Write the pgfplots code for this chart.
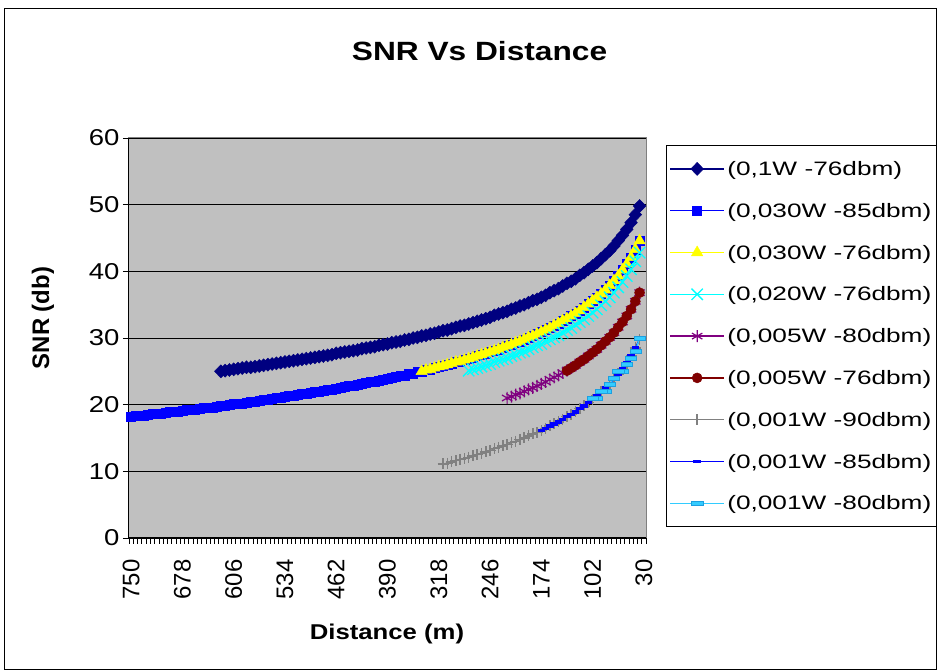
\documentclass[border=0pt]{standalone}
\usepackage{fontspec}
\setmainfont{Liberation Sans}
\newfontfamily\widefont{Liberation Sans}[FakeStretch=1.2]
\newfontfamily\legfont{Liberation Sans}[FakeStretch=1.35]
\usepackage{pgfplots}
\usepackage{pgfplotstable}
\pgfplotsset{compat=1.18}
\definecolor{bgc}{HTML}{C0C0C0}
\definecolor{navyc}{HTML}{000080}
\definecolor{bluec}{HTML}{0000FF}
\definecolor{yellowc}{HTML}{FFFF00}
\definecolor{cyanc}{HTML}{00FFFF}
\definecolor{purplec}{HTML}{800080}
\definecolor{darkredc}{HTML}{800000}
\definecolor{grayc}{HTML}{808080}
\definecolor{lbluec}{HTML}{33CCFF}
\definecolor{lbluedark}{HTML}{1E9FE0}
% d = distance (m); A = 0.1W; B = 0.030W; D = 0.020W; E = 0.005W; G = 0.001W; I = 0.001W (-80dbm)
\pgfplotstableread{
d A B D E G I
36 49.8 44.6 42.8 36.8 29.8 30
42 48.5 43.3 41.5 35.5 28.5 28
48 47.3 42.1 40.3 34.3 27.3 27
54 46.3 41.1 39.3 33.3 26.3 26
60 45.4 40.2 38.4 32.4 25.4 25
66 44.6 39.3 37.6 31.6 24.6 25
72 43.8 38.6 36.8 30.8 23.8 24
78 43.1 37.9 36.1 30.1 23.1 23
84 42.5 37.2 35.5 29.5 22.5 22
90 41.9 36.6 34.9 28.9 21.9 22
96 41.3 36.1 34.3 28.3 21.3 21
102 40.8 35.6 33.8 27.8 20.8 21
108 40.3 35.1 33.3 27.3 20.3 nan
114 39.8 34.6 32.8 26.8 19.8 nan
120 39.4 34.1 32.4 26.4 19.4 nan
126 38.9 33.7 32.0 25.9 18.9 nan
132 38.5 33.3 31.5 25.5 18.5 nan
138 38.2 32.9 31.2 25.1 18.2 nan
144 37.8 32.6 30.8 24.8 17.8 nan
150 37.4 32.2 30.4 24.4 17.4 nan
156 37.1 31.9 30.1 24.1 17.1 nan
162 36.8 31.5 29.8 23.8 16.8 nan
168 36.4 31.2 29.5 23.4 16.4 nan
174 36.1 30.9 29.1 23.1 16.1 nan
180 35.8 30.6 28.9 22.8 15.8 nan
186 35.6 30.3 28.6 22.5 15.6 nan
192 35.3 30.1 28.3 22.3 15.3 nan
198 35.0 29.8 28.0 22.0 15.0 nan
204 34.8 29.5 27.8 21.7 14.8 nan
210 34.5 29.3 27.5 21.5 14.5 nan
216 34.3 29.0 27.3 21.2 14.3 nan
222 34.0 28.8 27.0 21.0 14.0 nan
228 33.8 28.6 26.8 nan 13.8 nan
234 33.6 28.3 26.6 nan 13.6 nan
240 33.4 28.1 26.4 nan 13.4 nan
246 33.1 27.9 26.1 nan 13.1 nan
252 32.9 27.7 25.9 nan 12.9 nan
258 32.7 27.5 25.7 nan 12.7 nan
264 32.5 27.3 25.5 nan 12.5 nan
270 32.3 27.1 25.3 nan 12.3 nan
276 32.1 26.9 25.1 nan 12.1 nan
282 31.9 26.7 nan nan 11.9 nan
288 31.8 26.5 nan nan 11.8 nan
294 31.6 26.4 nan nan 11.6 nan
300 31.4 26.2 nan nan 11.4 nan
306 31.2 26.0 nan nan 11.2 nan
312 31.1 25.8 nan nan 11.1 nan
318 30.9 25.7 nan nan nan nan
324 30.7 25.5 nan nan nan nan
330 30.6 25.3 nan nan nan nan
336 30.4 25.2 nan nan nan nan
342 30.3 25.0 nan nan nan nan
348 30.1 24.9 nan nan nan nan
354 30.0 24.7 nan nan nan nan
360 29.8 24.6 nan nan nan nan
366 29.7 24.4 nan nan nan nan
372 29.5 24.3 nan nan nan nan
378 29.4 24.2 nan nan nan nan
384 29.3 24.0 nan nan nan nan
390 29.1 23.9 nan nan nan nan
396 29.0 23.8 nan nan nan nan
402 28.9 23.6 nan nan nan nan
408 28.7 23.5 nan nan nan nan
414 28.6 23.4 nan nan nan nan
420 28.5 23.3 nan nan nan nan
426 28.4 23.1 nan nan nan nan
432 28.2 23.0 nan nan nan nan
438 28.1 22.9 nan nan nan nan
444 28.0 22.8 nan nan nan nan
450 27.9 22.7 nan nan nan nan
456 27.8 22.5 nan nan nan nan
462 27.7 22.4 nan nan nan nan
468 27.5 22.3 nan nan nan nan
474 27.4 22.2 nan nan nan nan
480 27.3 22.1 nan nan nan nan
486 27.2 22.0 nan nan nan nan
492 27.1 21.9 nan nan nan nan
498 27.0 21.8 nan nan nan nan
504 26.9 21.7 nan nan nan nan
510 26.8 21.6 nan nan nan nan
516 26.7 21.5 nan nan nan nan
522 26.6 21.4 nan nan nan nan
528 26.5 21.3 nan nan nan nan
534 26.4 21.2 nan nan nan nan
540 26.3 21.1 nan nan nan nan
546 26.2 21.0 nan nan nan nan
552 26.1 20.9 nan nan nan nan
558 26.0 20.8 nan nan nan nan
564 25.9 20.7 nan nan nan nan
570 25.8 20.6 nan nan nan nan
576 25.7 20.5 nan nan nan nan
582 25.6 20.4 nan nan nan nan
588 25.6 20.3 nan nan nan nan
594 25.5 20.2 nan nan nan nan
600 25.4 20.2 nan nan nan nan
606 25.3 20.1 nan nan nan nan
612 25.2 20.0 nan nan nan nan
618 25.1 19.9 nan nan nan nan
624 25.0 19.8 nan nan nan nan
630 nan 19.7 nan nan nan nan
636 nan 19.6 nan nan nan nan
642 nan 19.6 nan nan nan nan
648 nan 19.5 nan nan nan nan
654 nan 19.4 nan nan nan nan
660 nan 19.3 nan nan nan nan
666 nan 19.2 nan nan nan nan
672 nan 19.2 nan nan nan nan
678 nan 19.1 nan nan nan nan
684 nan 19.0 nan nan nan nan
690 nan 18.9 nan nan nan nan
696 nan 18.9 nan nan nan nan
702 nan 18.8 nan nan nan nan
708 nan 18.7 nan nan nan nan
714 nan 18.6 nan nan nan nan
720 nan 18.6 nan nan nan nan
726 nan 18.5 nan nan nan nan
732 nan 18.4 nan nan nan nan
738 nan 18.4 nan nan nan nan
744 nan 18.3 nan nan nan nan
750 nan 18.2 nan nan nan nan
}\snrdata
\begin{document}
\begin{tikzpicture}
\useasboundingbox (0,0) rectangle (938bp,672bp);
\fill[white] (0,0) rectangle (938bp,672bp);
\draw[black, line width=1bp] (4.5bp,2.5bp) rectangle (936.5bp,663.5bp);
\begin{axis}[
  at={(129bp,134bp)}, anchor=south west,
  width=517bp, height=400bp, scale only axis,
  x dir=reverse, xmin=27, xmax=753, ymin=0, ymax=60,
  axis lines=left, axis line style={-, black, line width=1bp},
  axis background/.style={fill=bgc, draw=grayc, line width=1bp},
  tick align=outside, major tick length=6bp,
  xtick={27,33,...,753}, xticklabels={},
  extra x ticks={30,102,174,246,318,390,462,534,606,678,750},
  extra x tick labels={30,102,174,246,318,390,462,534,606,678,750},
  extra x tick style={tick style={draw=none},
    xticklabel style={rotate=90, anchor=east, font=\fontsize{24}{28}\selectfont}},
  xticklabel shift=12bp,
  ytick={0,10,...,60},
  yticklabel style={font=\widefont\fontsize{23}{26}\selectfont},
  /pgf/number format/assume math mode=true,
  tick style={black, line width=0.8bp},
  ymajorgrids, major grid style={black, line width=0.9bp},
  title={SNR Vs Distance},
  title style={at={(axis description cs:0.678,1.203)}, anchor=center,
    font=\widefont\bfseries\fontsize{26.5}{30}\selectfont},
  xlabel={Distance (m)},
  xlabel style={at={(axis description cs:0.499,-0.24)}, anchor=center,
    font=\widefont\bfseries\fontsize{21.5}{26}\selectfont},
  ylabel={SNR (db)},
  ylabel style={at={(axis description cs:-0.1663,0.55)}, anchor=center,
    font=\bfseries\fontsize{24}{28}\selectfont},
  legend style={at={(1.0387,0.9825)}, anchor=north west, draw=black, fill=white,
    line width=1bp, font=\legfont\fontsize{19.5}{22}\selectfont,
    inner xsep=3bp, inner ysep=2.5bp, row sep=0pt,
    nodes={text height=15.5bp, text depth=2.5bp, inner ysep=11.9bp, inner xsep=2.5bp},
    cells={anchor=west}},
  legend image code/.code={\draw[mark repeat=2,mark phase=2,#1] plot coordinates {(0bp,0bp) (27bp,0bp) (54bp,0bp)};},
  every axis plot/.append style={line width=1.3bp},
]
\addplot[color=navyc, mark=diamond*, mark size=6.5bp, mark options={xscale=1.3, fill=navyc, line width=0.5bp}] table[x=d, y=A] {\snrdata};
\addlegendentry{(0,1W -76dbm)}
\addplot[color=bluec, mark=square*, mark size=4.5bp, mark options={fill=bluec, line width=0.5bp}] table[x=d, y=B] {\snrdata};
\addlegendentry{(0,030W -85dbm)}
\addplot[color=yellowc, mark=triangle*, mark size=6.5bp, mark options={fill=yellowc, line width=0.5bp}, restrict x to domain=0:345] table[x=d, y=B] {\snrdata};
\addlegendentry{(0,030W -76dbm)}
\addplot[color=cyanc, mark=x, mark size=8bp] table[x=d, y=D] {\snrdata};
\addlegendentry{(0,020W -76dbm)}
\addplot[color=purplec, mark=asterisk, mark size=6bp, mark options={line width=1.2bp}] table[x=d, y=E] {\snrdata};
\addlegendentry{(0,005W -80dbm)}
\addplot[color=darkredc, mark=*, mark size=5bp, mark options={fill=darkredc, line width=0.5bp}, restrict x to domain=0:141] table[x=d, y=E] {\snrdata};
\addlegendentry{(0,005W -76dbm)}
\addplot[color=grayc, mark=+, mark size=5.5bp, mark options={line width=1.5bp}] table[x=d, y=G] {\snrdata};
\addlegendentry{(0,001W -90dbm)}
\addplot[color=bluec, mark=-, mark size=3.8bp, mark options={line width=3.5bp}, restrict x to domain=0:177] table[x=d, y=G] {\snrdata};
\addlegendentry{(0,001W -85dbm)}
\addplot[color=lbluec, mark=square*, mark size=2bp, mark options={xscale=2.8, fill=lbluec, draw=lbluedark, line width=0.4bp}] table[x=d, y=I] {\snrdata};
\addlegendentry{(0,001W -80dbm)}
\end{axis}
\end{tikzpicture}
\end{document}
